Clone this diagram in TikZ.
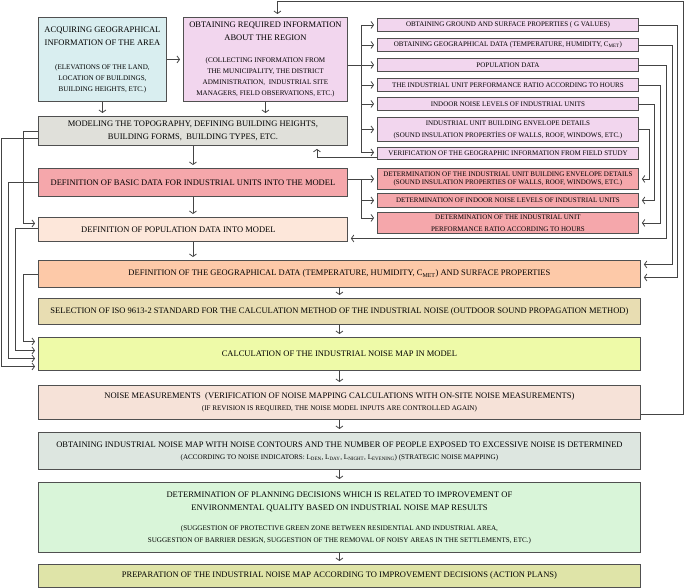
\documentclass[tikz,border=0pt]{standalone}
\usepackage{fontspec}
\setmainfont{Liberation Serif}
\usetikzlibrary{arrows.meta,calc}
\definecolor{bordercol}{HTML}{505050}
\definecolor{lncol}{HTML}{444444}
\definecolor{cCyan}{HTML}{D9EEF0}
\definecolor{cPink}{HTML}{F2D6EE}
\definecolor{cGray}{HTML}{E0E0DA}
\definecolor{cRed}{HTML}{F5A7AB}
\definecolor{cPeach}{HTML}{FDE7DA}
\definecolor{cOrange}{HTML}{FDC9A8}
\definecolor{cTan}{HTML}{E8DDB2}
\definecolor{cYel}{HTML}{EEFAA8}
\definecolor{cRose}{HTML}{F6E2D8}
\definecolor{cSage}{HTML}{DDE6E0}
\definecolor{cGreen}{HTML}{D9F5D9}
\definecolor{cOlive}{HTML}{DFE4A8}
\newcommand\fntA{\fontsize{8.5}{11}\selectfont}
\newcommand\fntB{\fontsize{7.1}{11}\selectfont}
\newcommand\fntC{\fontsize{7}{9}\selectfont}
\tikzset{
  box/.style={draw=bordercol, line width=0.9pt, inner sep=0pt, anchor=north west, align=center, font=\fntA},
  rbox/.style={box, font=\fntC},
  ln/.style={draw=lncol, line width=0.8pt},
  arr/.style={ln, -{Straight Barb[length=2.5pt,width=7pt]}, shorten >=3pt},
}
\begin{document}
\begin{tikzpicture}[x=1pt,y=-1pt]
\useasboundingbox (0,0) rectangle (685,588);
% left column boxes
\node[box, fill=cCyan, minimum width=128pt, minimum height=84pt] (acq) at (38,17)
 {ACQUIRING GEOGRAPHICAL\\[2pt]INFORMATION OF THE AREA\\[13pt]{\fntB (ELEVATIONS OF THE LAND,}\\{\fntB LOCATION OF BUILDINGS,}\\{\fntB BUILDING HEIGHTS, ETC.)}};
\node[box, fill=cPink, minimum width=164pt, minimum height=84pt] (obt) at (183,17)
 {OBTAINING REQUIRED INFORMATION\\[2pt]ABOUT THE REGION\\[11pt]{\fntB (COLLECTING INFORMATION FROM}\\{\fntB THE MUNICIPALITY, THE DISTRICT}\\{\fntB ADMINISTRATION,\ \ INDUSTRIAL SITE}\\{\fntB MANAGERS, FIELD OBSERVATIONS, ETC.)}};
\node[box, fill=cGray, minimum width=309pt, minimum height=29pt] (mod) at (38,116)
 {MODELING THE TOPOGRAPHY, DEFINING BUILDING HEIGHTS,\\[2pt]BUILDING FORMS,\ \ BUILDING TYPES, ETC.};
\node[box, fill=cRed, minimum width=309pt, minimum height=28pt] (basic) at (38,168)
 {DEFINITION OF BASIC DATA FOR INDUSTRIAL UNITS INTO THE MODEL};
\node[box, fill=cPeach, minimum width=309pt, minimum height=24pt] (lpop) at (38,217)
 {DEFINITION OF POPULATION DATA INTO MODEL\hspace*{29pt}};
% wide boxes
\node[box, fill=cOrange, minimum width=602pt, minimum height=27pt] (geo) at (38,260)
 {DEFINITION OF THE GEOGRAPHICAL DATA (TEMPERATURE, HUMIDITY, C\textsubscript{MET}) AND SURFACE PROPERTIES};
\node[box, fill=cTan, minimum width=602pt, minimum height=26pt] (sel) at (38,298)
 {SELECTION OF ISO 9613-2 STANDARD FOR THE CALCULATION METHOD OF THE INDUSTRIAL NOISE (OUTDOOR SOUND PROPAGATION METHOD)};
\node[box, fill=cYel, minimum width=602pt, minimum height=33pt] (calc) at (38,337)
 {CALCULATION OF THE INDUSTRIAL NOISE MAP IN MODEL};
\node[box, fill=cRose, minimum width=602pt, minimum height=34pt] (noise) at (38,385)
 {NOISE MEASUREMENTS\ \ (VERIFICATION OF NOISE MAPPING CALCULATIONS WITH ON-SITE NOISE MEASUREMENTS)\\[1pt]{\fntB (IF REVISION IS REQUIRED, THE NOISE MODEL INPUTS ARE CONTROLLED AGAIN)}};
\node[box, fill=cSage, minimum width=602pt, minimum height=37pt] (map) at (38,432)
 {OBTAINING INDUSTRIAL NOISE MAP WITH NOISE CONTOURS AND THE NUMBER OF PEOPLE EXPOSED TO EXCESSIVE NOISE IS DETERMINED\\[1pt]{\fntB (ACCORDING TO NOISE INDICATORS: L\textsubscript{DEN}, L\textsubscript{DAY}, L\textsubscript{NIGHT}, L\textsubscript{EVENING}) (STRATEGIC NOISE MAPPING)}};
\node[box, fill=cGreen, minimum width=602pt, minimum height=70pt] (plan) at (38,482)
 {DETERMINATION OF PLANNING DECISIONS WHICH IS RELATED TO IMPROVEMENT OF\\[2pt]ENVIRONMENTAL QUALITY BASED ON INDUSTRIAL NOISE MAP RESULTS\\[9pt]{\fntB (SUGGESTION OF PROTECTIVE GREEN ZONE BETWEEN RESIDENTIAL AND INDUSTRIAL AREA,}\\[1pt]{\fntB SUGGESTION OF BARRIER DESIGN, SUGGESTION OF THE REMOVAL OF NOISY AREAS IN THE SETTLEMENTS, ETC.)}};
\node[box, fill=cOlive, minimum width=602pt, minimum height=23pt] (prep) at (38,564)
 {PREPARATION OF THE INDUSTRIAL NOISE MAP ACCORDING TO IMPROVEMENT DECISIONS (ACTION PLANS)};
% right column
\node[rbox, fill=cPink, minimum width=261pt, minimum height=13pt] (rg) at (377,18)
 {OBTAINING GROUND AND SURFACE PROPERTIES ( G VALUES)};
\node[rbox, fill=cPink, minimum width=261pt, minimum height=13pt] (rgeo) at (377,38)
 {OBTAINING GEOGRAPHICAL DATA (TEMPERATURE, HUMIDITY, C\textsubscript{MET})};
\node[rbox, fill=cPink, minimum width=261pt, minimum height=13pt] (rpop) at (377,58)
 {POPULATION DATA};
\node[rbox, fill=cPink, minimum width=261pt, minimum height=13pt] (rperf) at (377,78)
 {THE INDUSTRIAL UNIT PERFORMANCE RATIO ACCORDING TO HOURS};
\node[rbox, fill=cPink, minimum width=261pt, minimum height=13pt] (rind) at (377,97)
 {INDOOR NOISE LEVELS OF INDUSTRIAL UNITS};
\node[rbox, fill=cPink, minimum width=261pt, minimum height=24pt] (renv) at (377,117)
 {INDUSTRIAL UNIT BUILDING ENVELOPE DETAILS\\[3pt](SOUND INSULATION PROPERTİES OF WALLS, ROOF, WINDOWS, ETC.)};
\node[rbox, fill=cPink, minimum width=261pt, minimum height=12pt] (rver) at (377,147)
 {VERIFICATION OF THE GEOGRAPHIC INFORMATION FROM FIELD STUDY};
\node[rbox, fill=cRed, minimum width=261pt, minimum height=21pt] (rdenv) at (377,168)
 {DETERMINATION OF THE INDUSTRIAL UNIT BUILDING ENVELOPE DETAILS\\[-0.5pt](SOUND INSULATION PROPERTIES OF WALLS, ROOF, WINDOWS, ETC.)};
\node[rbox, fill=cRed, minimum width=261pt, minimum height=14pt] (rdind) at (377,193)
 {DETERMINATION OF INDOOR NOISE LEVELS OF INDUSTRIAL UNITS};
\node[rbox, fill=cRed, minimum width=261pt, minimum height=21pt] (rdper) at (377,212)
 {DETERMINATION OF THE INDUSTRIAL UNIT\\[3pt]PERFORMANCE RATIO ACCORDING TO HOURS};
% helper coordinates
\coordinate (bx) at (361,0);
\coordinate (xa) at (677,0); \coordinate (xb) at (672,0); \coordinate (xc) at (666,0);
\coordinate (xd) at (660,0); \coordinate (xe) at (654,0); \coordinate (xf) at (649,0);
\coordinate (xo) at (683,0);
\coordinate (l1) at (1,0); \coordinate (l2) at (8,0); \coordinate (l3) at (15,0); \coordinate (l4) at (23,0);
\coordinate (geoA) at ([yshift=-3.5pt]geo.east);
\coordinate (geoB) at ([yshift=9.5pt]geo.east);
\coordinate (popR) at ([yshift=-9pt]lpop.east);
\coordinate (popL) at ([yshift=6pt]lpop.west);
\coordinate (popO) at ([yshift=1pt]lpop.west);
\coordinate (modO) at ([yshift=-7pt]mod.west);
\coordinate (c1) at ([yshift=12.5pt]calc.west);
\coordinate (c2) at ([yshift=3.5pt]calc.west);
\coordinate (c3) at ([yshift=-4.5pt]calc.west);
\coordinate (c4) at ([yshift=-12.5pt]calc.west);
\coordinate (verO) at ([yshift=-4pt]rver.west);
\coordinate (verI) at ([yshift=1pt]rver.west);
\coordinate (rdperI) at ([yshift=5pt]rdper.west);
\coordinate (noiseO) at ([yshift=-12pt]noise.east);
\coordinate (obtI) at ([xshift=12pt]obt.north);
\coordinate (modI) at ([xshift=124pt]mod.south);
\coordinate (ytop) at (0,1);
% main flow
\draw[arr] (acq.east) -- (acq.east -| obt.west);
\draw[arr] (acq.south) -- (acq.south |- mod.north);
\draw[arr] (obt.south) -- (obt.south |- mod.north);
\draw[arr] (mod.south) -- (mod.south |- basic.north);
\draw[arr] (basic.south) -- (basic.south |- lpop.north);
\draw[arr] (lpop.south) -- (lpop.south |- geo.north);
\draw[arr] (geo.south) -- (sel.north);
\draw[arr] (sel.south) -- (calc.north);
\draw[arr] (calc.south) -- (noise.north);
\draw[arr] (noise.south) -- (map.north);
\draw[arr] (map.south) -- (plan.north);
\draw[arr] (plan.south) -- (prep.north);
% top feedback
\draw[arr] (noiseO) -| (xo |- ytop) -| (obtI);
% branch from obt
\draw[ln] (obt.east |- rpop.west) -- (bx |- rpop.west);
\draw[ln] (bx |- rg.west) -- (bx |- verI);
\foreach \n in {rg,rgeo,rpop,rperf,rind,renv} \draw[arr] (bx |- \n.west) -- (\n.west);
\draw[arr] (bx |- verI) -- (verI);
\draw[arr] (verO) -| (modI);
% branch from basic
\draw[ln] (basic.east |- rdenv.west) -- (bx |- rdenv.west) -- (bx |- rdperI);
\draw[arr] (bx |- rdenv.west) -- (rdenv.west);
\draw[arr] (bx |- rdind.west) -- (rdind.west);
\draw[arr] (bx |- rdperI) -- (rdperI);
% right side
\draw[arr] (rg.east) -| (xa |- geoA) -- (geoA);
\draw[arr] (rgeo.east) -| (xb |- geoB) -- (geoB);
\draw[arr] (rpop.east) -| (xc |- popR) -- (popR);
\draw[arr] (rperf.east) -| (xd |- rdper.east) -- (rdper.east);
\draw[arr] (rind.east) -| (xe |- rdind.east) -- (rdind.east);
\draw[arr] (renv.east) -| (xf |- rdenv.east) -- (rdenv.east);
% left side
\draw[arr] (mod.west) -| (l4 |- popL) -- (popL);
\draw[arr] (modO) -| (l1 |- c4) -- (c4);
\draw[arr] (basic.west) -| (l2 |- c3) -- (c3);
\draw[arr] (popO) -| (l3 |- c2) -- (c2);
\draw[arr] (geo.west) -| (l4 |- c1) -- (c1);
\end{tikzpicture}
\end{document}
